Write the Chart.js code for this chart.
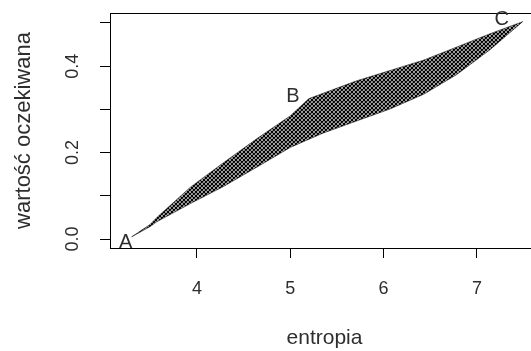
<!DOCTYPE html>
<html>
<head>
<meta charset="utf-8">
<script src="https://cdn.jsdelivr.net/npm/chart.js@4"></script>
<style>
  html, body { margin: 0; padding: 0; background: #fff; overflow: hidden; }
  #wrap { width: 560px; height: 351px; }
</style>
</head>
<body>
<div id="wrap"><canvas id="plot" width="560" height="351"></canvas></div>
<script>
// upper edge of the region (A -> B -> C)
const upperX = [3.30, 3.50, 3.57, 3.93, 4.28, 4.64, 5.00, 5.20, 5.71, 6.07, 6.43, 6.78, 7.14, 7.49];
const upperY = [0.005, 0.034, 0.050, 0.120, 0.176, 0.232, 0.285, 0.325, 0.366, 0.390, 0.414, 0.444, 0.475, 0.503];
// lower edge of the region (A -> C)
const lowerX = [3.30, 3.50, 3.57, 3.93, 4.28, 4.64, 5.00, 5.35, 5.71, 6.07, 6.43, 6.78, 7.14, 7.49];
const lowerY = [0.005, 0.029, 0.040, 0.082, 0.121, 0.166, 0.212, 0.245, 0.273, 0.301, 0.335, 0.380, 0.438, 0.503];

// corner points
const cornerNames = ["A", "B", "C"];
const cornerX = [3.30, 5.20, 7.49];
const cornerY = [0.005, 0.325, 0.503];

const xTicks = [4, 5, 6, 7];
const yTicks = [0.0, 0.1, 0.2, 0.3, 0.4, 0.5];
const yTickLabels = ["0.0", "", "0.2", "", "0.4", ""];

const textColor = "#2e2e2e";
const fontFamily = "'Liberation Sans', Arial, sans-serif";

function toPoints(xs, ys) {
  let pts = [];
  let i = 0;
  while (i < xs.length) {
    pts.push({ x: xs[i], y: ys[i] });
    i++;
  }
  return pts;
}

// crossed diagonal hatching, fairly dense
function make_hatch() {
  const c = document.createElement("canvas");
  c.width = 4;
  c.height = 4;
  const g = c.getContext("2d");
  g.fillStyle = "#ffffff";
  g.fillRect(0, 0, 4, 4);
  g.strokeStyle = "#000000";
  g.lineWidth = 1.25;
  g.beginPath();
  g.moveTo(-1, 5); g.lineTo(5, -1);
  g.moveTo(-1, 1); g.lineTo(1, -1);
  g.moveTo(3, 5); g.lineTo(5, 3);
  g.moveTo(-1, -1); g.lineTo(5, 5);
  g.moveTo(3, -1); g.lineTo(5, 1);
  g.moveTo(-1, 3); g.lineTo(1, 5);
  g.stroke();
  return g.createPattern(c, "repeat");
}

// box, rotated y tick labels and the A/B/C labels
const decorations = {
  id: "decorations",
  afterDraw(chart) {
    const ctx = chart.ctx;
    const area = chart.chartArea;
    const xs = chart.scales.x;
    const ys = chart.scales.y;

    ctx.save();
    ctx.strokeStyle = "#000";
    ctx.lineWidth = 1;
    ctx.strokeRect(area.left + 0.5, area.top + 0.5, area.right - area.left, area.bottom - area.top);

    ctx.fillStyle = textColor;
    ctx.font = "18px " + fontFamily;
    ctx.textAlign = "center";
    ctx.textBaseline = "middle";
    let i = 0;
    while (i < yTicks.length) {
      if (yTickLabels[i] !== "") {
        const py = ys.getPixelForValue(yTicks[i]);
        ctx.save();
        ctx.translate(area.left - 37, py);
        ctx.rotate(-Math.PI / 2);
        ctx.fillText(yTickLabels[i], 0, 0);
        ctx.restore();
      }
      i++;
    }

    const offsets = [[-6, 6], [-16, -2], [-21, -2]];
    ctx.font = "20px " + fontFamily;
    let k = 0;
    while (k < cornerNames.length) {
      const px = xs.getPixelForValue(cornerX[k]);
      const py = ys.getPixelForValue(cornerY[k]);
      ctx.fillText(cornerNames[k], px + offsets[k][0], py + offsets[k][1]);
      k++;
    }
    ctx.restore();
  },
};

const hatch = make_hatch();

new Chart(document.getElementById("plot"), {
  type: "line",
  data: {
    datasets: [
      {
        label: "upper",
        data: toPoints(upperX, upperY),
        borderColor: "#222",
        borderWidth: 0.6,
        pointRadius: 0,
        fill: false,
        tension: 0,
      },
      {
        label: "lower",
        data: toPoints(lowerX, lowerY),
        borderColor: "#222",
        borderWidth: 0.6,
        pointRadius: 0,
        backgroundColor: hatch,
        fill: "-1",
        tension: 0,
      },
    ],
  },
  options: {
    responsive: false,
    animation: false,
    events: [],
    layout: { padding: { top: 13, right: 21, bottom: 0, left: 0 } },
    plugins: {
      legend: { display: false },
      tooltip: { enabled: false },
    },
    scales: {
      x: {
        type: "linear",
        min: 3.068,
        max: 7.665,
        afterBuildTicks: (s) => { s.ticks = xTicks.map((v) => ({ value: v })); },
        afterFit: (s) => { s.height = 103; },
        border: { display: false },
        grid: { drawOnChartArea: false, drawTicks: true, tickLength: 10, color: "#000", lineWidth: 1 },
        ticks: {
          color: textColor,
          font: { family: fontFamily, size: 18 },
          padding: 20,
          maxRotation: 0,
          callback: (v) => String(v),
        },
        title: {
          display: true,
          text: "entropia",
          color: textColor,
          font: { family: fontFamily, size: 21 },
          padding: { top: 0, bottom: 0 },
        },
      },
      y: {
        type: "linear",
        min: -0.0208,
        max: 0.523,
        afterBuildTicks: (s) => { s.ticks = yTicks.map((v) => ({ value: v })); },
        afterFit: (s) => { s.width = 110; },
        border: { display: false },
        grid: { drawOnChartArea: false, drawTicks: true, tickLength: 10, color: "#000", lineWidth: 1 },
        ticks: { display: false },
        title: {
          display: true,
          text: "wartość oczekiwana",
          color: textColor,
          font: { family: fontFamily, size: 22 },
          padding: { top: 11, bottom: 0 },
        },
      },
    },
  },
  plugins: [decorations],
});
</script>
</body>
</html>
